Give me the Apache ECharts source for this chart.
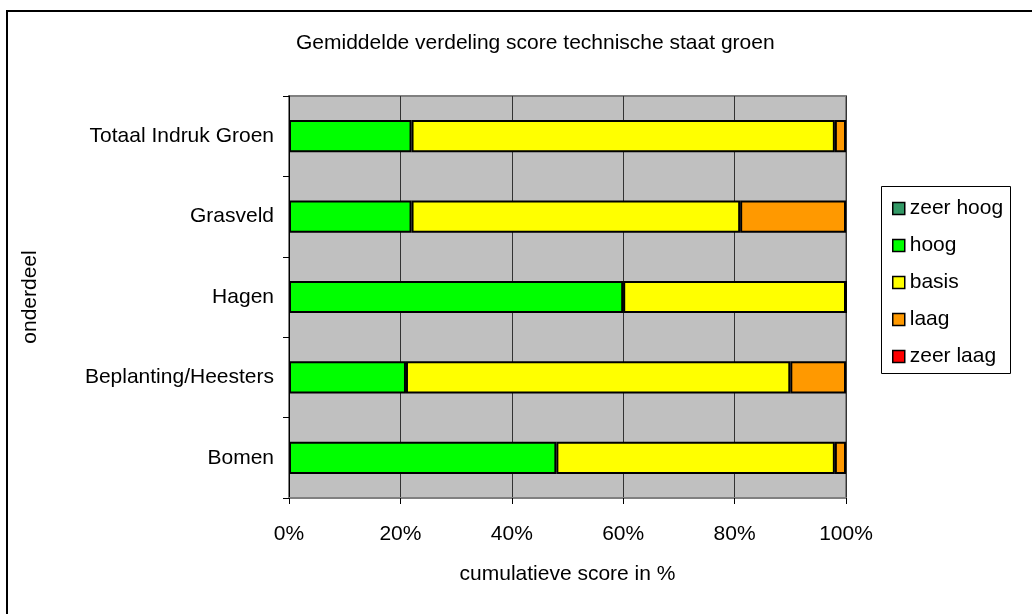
<!DOCTYPE html>
<html>
<head>
<meta charset="utf-8">
<script src="https://cdn.jsdelivr.net/npm/echarts@6/dist/echarts.min.js"></script>
<style>
  html, body { margin: 0; padding: 0; background: #fff; }
  #chart { width: 1032px; height: 614px; }
</style>
</head>
<body>
<div id="chart"></div>
<script>
// onderdelen, van onder naar boven
const categories = ['Bomen', 'Beplanting/Heesters', 'Hagen', 'Grasveld', 'Totaal Indruk Groen'];

// percentages per score
const zeerHoog = [0, 0, 0, 0, 0];
const hoog = [48, 21, 60, 22, 22];
const basis = [50, 69, 40, 59, 76];
const laag = [2, 10, 0, 19, 2];
const zeerLaag = [0, 0, 0, 0, 0];

const xTicks = [0, 20, 40, 60, 80, 100];

const FONT = 'Arial, "Liberation Sans", sans-serif';
const FS = 21;

const chart = echarts.init(document.getElementById('chart'));

const barSeries = (name, data, color, border) => ({
  name: name,
  type: 'bar',
  stack: 'totaal',
  barWidth: '40%',
  data: data,
  itemStyle: {
    color: color,
    borderColor: '#000',
    borderWidth: border ? 2 : 0
  },
  emphasis: { disabled: true }
});

const option = {
  animation: false,
  textStyle: { fontFamily: FONT },
  title: {
    text: 'Gemiddelde verdeling score technische staat groen',
    left: 291,
    top: 28,
    textStyle: { fontFamily: FONT, fontSize: FS, fontWeight: 'normal', color: '#000' }
  },
  legend: {
    orient: 'vertical',
    left: 887,
    top: 193,
    icon: 'rect',
    itemWidth: 12,
    itemHeight: 12,
    itemGap: 16,
    textStyle: { fontFamily: FONT, fontSize: FS, color: '#000' },
    itemStyle: { borderColor: '#000', borderWidth: 1.5 },
    data: ['zeer hoog', 'hoog', 'basis', 'laag', 'zeer laag']
  },
  graphic: [
    {
      type: 'rect',
      shape: { x: 7, y: 11, width: 1200, height: 800 },
      style: { fill: 'none', stroke: '#000', lineWidth: 2 },
      silent: true
    },
    {
      type: 'rect',
      shape: { x: 881.5, y: 186.5, width: 129, height: 187 },
      style: { fill: 'none', stroke: '#000', lineWidth: 1 },
      silent: true
    }
  ],
  grid: {
    left: 289,
    top: 96,
    right: 186,
    bottom: 116,
    show: true,
    backgroundColor: '#c0c0c0',
    borderColor: '#808080',
    borderWidth: 2
  },
  xAxis: {
    type: 'value',
    min: xTicks[0],
    max: xTicks[xTicks.length - 1],
    interval: 20,
    name: 'cumulatieve score in %',
    nameLocation: 'middle',
    nameGap: 66,
    nameTextStyle: { fontFamily: FONT, fontSize: FS, color: '#000' },
    axisLine: { show: true, lineStyle: { color: '#808080', width: 2 } },
    axisTick: { show: true, length: 6, lineStyle: { color: '#000' } },
    axisLabel: {
      formatter: '{value}%',
      margin: 26,
      fontFamily: FONT,
      fontSize: FS,
      color: '#000'
    },
    splitLine: { show: true, lineStyle: { color: '#333', width: 1 } }
  },
  yAxis: {
    type: 'category',
    data: categories,
    name: 'onderdeel',
    nameLocation: 'middle',
    nameRotate: 90,
    nameGap: 248,
    nameTextStyle: { fontFamily: FONT, fontSize: FS, color: '#000' },
    axisLine: { show: true, lineStyle: { color: '#000', width: 1 } },
    axisTick: { show: true, length: 6, lineStyle: { color: '#000' } },
    axisLabel: { margin: 15, fontFamily: FONT, fontSize: FS, color: '#000' },
    splitLine: { show: false }
  },
  series: [
    barSeries('zeer hoog', zeerHoog, '#339966', false),
    barSeries('hoog', hoog, '#00ff00', true),
    barSeries('basis', basis, '#ffff00', true),
    barSeries('laag', laag, '#ff9900', true),
    barSeries('zeer laag', zeerLaag, '#ff0000', false)
  ]
};

chart.setOption(option);
</script>
</body>
</html>
